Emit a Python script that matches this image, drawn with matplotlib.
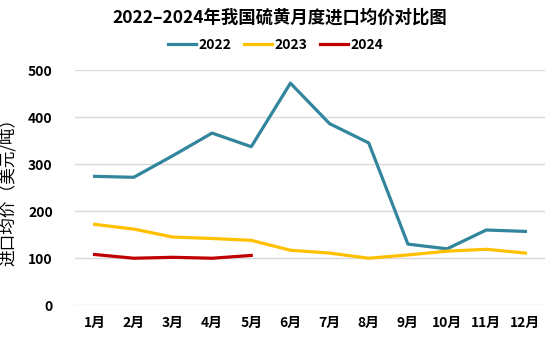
import matplotlib
matplotlib.use("Agg")
import matplotlib.pyplot as plt

plt.rcParams['font.family'] = ['Noto Sans CJK SC', 'DejaVu Sans']

months = ['1月', '2月', '3月', '4月', '5月', '6月', '7月', '8月', '9月', '10月', '11月', '12月']
v2022 = [274, 272, 318, 366, 337, 472, 386, 345, 130, 120, 160, 157]
v2023 = [172, 162, 145, 142, 138, 117, 111, 100, 107, 115, 119, 111]
v2024 = [108, 100, 102, 100, 106]
yticks = [0, 100, 200, 300, 400, 500]

fig = plt.figure(figsize=(5.49, 3.39), dpi=100)
ax = fig.add_axes([75/549, 1-305.3/339, 470/549, (305.3-70)/339])

x = list(range(1, 13))
ax.plot(x, v2022, color='#31859C', lw=2.3, label='2022')
ax.plot(x, v2023, color='#FFC000', lw=2.3, label='2023')
ax.plot(x[:len(v2024)], v2024, color='#C00000', lw=2.3, label='2024')

ax.set_xlim(0.5, 12.5)
ax.set_ylim(0, 500)
ax.set_yticks(yticks)
ax.set_yticklabels([str(t) for t in yticks], fontsize=10, fontweight='bold')
ax.set_xticks(x)
ax.set_xticklabels(months, fontsize=10, fontweight='bold')
ax.grid(axis='y', color='#D9D9D9', lw=1)
ax.set_axisbelow(True)
for s in ax.spines.values():
    s.set_visible(False)
ax.tick_params(length=0)
ax.tick_params(axis='y', pad=16)
ax.tick_params(axis='x', pad=8)

ax.set_ylabel('进口均价（美元/吨）', fontsize=12, labelpad=8)

fig.text(0.51, 1-18/339, '2022–2024年我国硫黄月度进口均价对比图', ha='center', va='center',
         fontsize=12.5, fontweight='bold')
fig.legend(loc='center', bbox_to_anchor=(276/549, 1-45/339), ncol=3, frameon=False,
           prop={'size': 10, 'weight': 'bold'}, handlelength=2.0, columnspacing=0.9,
           handletextpad=0.2)

fig.savefig('out.png', dpi=100)
